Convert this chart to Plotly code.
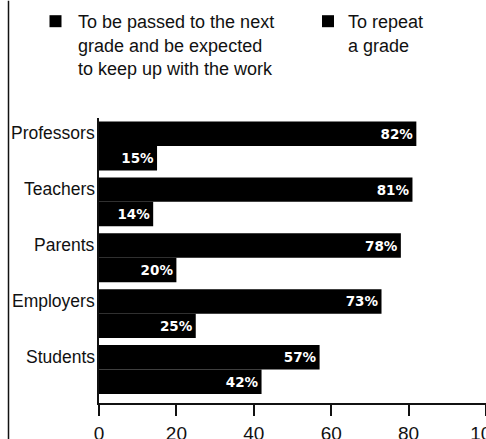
import plotly.graph_objects as go

categories = ["Professors", "Teachers", "Parents", "Employers", "Students"]
passed = [82, 81, 78, 73, 57]
repeat = [15, 14, 20, 25, 42]
x_ticks = [0, 20, 40, 60, 80, 100]
legend_passed = "To be passed to the next<br>grade and be expected<br>to keep up with the work"
legend_repeat = "To repeat<br>a grade"

W, H = 486, 439
L, T, B = 99, 117.5, 36
plot_h = H - T - B

fig = go.Figure()
fig.add_trace(go.Bar(
    y=categories, x=passed, orientation="h", name=legend_passed,
    marker=dict(color="#000000", line=dict(width=0)),
    text=[f"{v}%" for v in passed], textposition="inside", insidetextanchor="end",
    insidetextfont=dict(family="DejaVu Sans", size=13.5, color="white", weight="bold"),
    legend="legend",
))
fig.add_trace(go.Bar(
    y=categories, x=repeat, orientation="h", name=legend_repeat,
    marker=dict(color="#000000", line=dict(width=0)),
    text=[f"{v}%" for v in repeat], textposition="inside", insidetextanchor="end",
    insidetextfont=dict(family="DejaVu Sans", size=13.5, color="white", weight="bold"),
    legend="legend2",
))

for c in categories:
    fig.add_annotation(x=0, xref="x", y=c, yref="y", text=c, showarrow=False,
                       xanchor="right", yanchor="middle", xshift=-2, yshift=13,
                       font=dict(family="Liberation Sans", size=17.5, color="#111111"))

# left frame line
fig.add_shape(type="line", xref="paper", yref="paper",
              x0=(8.5 - L) / (W - L), x1=(8.5 - L) / (W - L),
              y0=-B / plot_h, y1=(H - B) / plot_h,
              line=dict(color="#111111", width=1.5))

fig.update_layout(
    width=W, height=H,
    margin=dict(l=L, r=0, t=T, b=B, pad=0, autoexpand=False),
    paper_bgcolor="white", plot_bgcolor="white",
    barmode="group", bargap=0.125, bargroupgap=0,
    font=dict(family="Liberation Sans", color="#111111"),
    xaxis=dict(range=[0, 100], tickvals=x_ticks, ticks="outside", ticklen=11, tickwidth=1.5,
               tickcolor="#111111", showline=True, linecolor="#111111", linewidth=1.5,
               showgrid=False, zeroline=False, ticklabelstandoff=1, ticklabeloverflow="allow",
               tickfont=dict(family="Liberation Sans", size=19, color="#111111")),
    yaxis=dict(type="category", categoryorder="array", categoryarray=categories,
               range=[4.5 + 5.5 / 56, -0.5], showticklabels=False, ticks="",
               showline=True, linecolor="#111111", linewidth=1.5, showgrid=False, zeroline=False),
    legend=dict(xref="container", yref="container", x=33 / W, y=1 - 3 / H,
                xanchor="left", yanchor="top", itemwidth=35, valign="top",
                bgcolor="rgba(0,0,0,0)", borderwidth=0,
                font=dict(family="Liberation Sans", size=18, color="#111111")),
    legend2=dict(xref="container", yref="container", x=308 / W, y=1 - 3 / H,
                 xanchor="left", yanchor="top", itemwidth=30, valign="top",
                 bgcolor="rgba(0,0,0,0)", borderwidth=0,
                 font=dict(family="Liberation Sans", size=18, color="#111111")),
    showlegend=True,
)

fig.write_html("out.html", config={"displayModeBar": False},
               post_script="document.body.style.margin='0';document.body.style.padding='0';")
